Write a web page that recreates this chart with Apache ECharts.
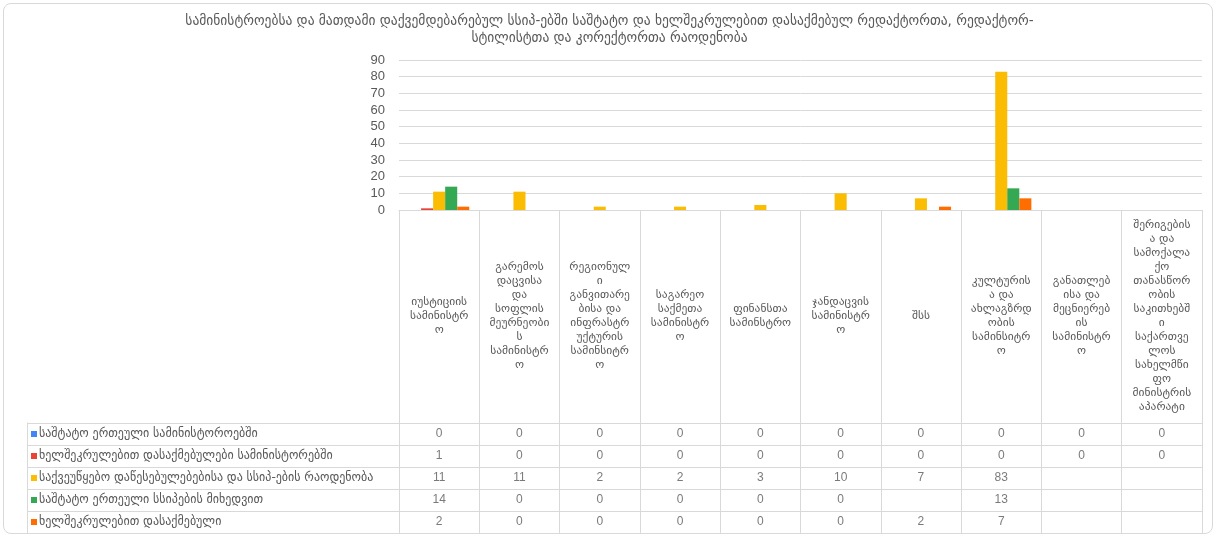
<!DOCTYPE html>
<html>
<head>
<meta charset="utf-8">
<script src="https://cdn.jsdelivr.net/npm/echarts@6/dist/echarts.min.js"></script>
<style>
body { margin: 0; background: #fff; }
#myChart { position: absolute; left: 0; top: 0; width: 1219px; height: 535px; }
#frame { position: absolute; left: 3px; top: 3px; width: 1208px; height: 529px;
  border: 1px solid #d9d9d9; border-radius: 8px; pointer-events: none; }
</style>
</head>
<body>
<div id="myChart"></div>
<div id="frame"></div>
<script>
// ministries (columns)
var categories = [
  'იუსტიციის სამინისტრო',
  'გარემოს დაცვისა და სოფლის მეურნეობის სამინისტრო',
  'რეგიონული განვითარებისა და ინფრასტრუქტურის სამინსიტრო',
  'საგარეო საქმეთა სამინისტრო',
  'ფინანსთა სამინსტრო',
  'ჯანდაცვის სამინისტრო',
  'შსს',
  'კულტურისა და ახლაგზრდობის სამინსიტრო',
  'განათლებისა და მეცნიერების სამინისტრო',
  'შერიგებისა და სამოქალაქო თანასწორობის საკითხებში საქართველოს სახელმწიფო მინისტრის აპარატი'
];
var seriesNames = [
  'საშტატო ერთეული სამინისტოროებში',
  'ხელშეკრულებით დასაქმებულები სამინისტორებში',
  'საქვეუწყებო დაწესებულებებისა და სსიპ-ების რაოდენობა',
  'საშტატო ერთეული სსიპების მიხედვით',
  'ხელშეკრულებით დასაქმებული'
];
var staffMinistry    = [0, 0, 0, 0, 0, 0, 0, 0, 0, 0];
var contractMinistry = [1, 0, 0, 0, 0, 0, 0, 0, 0, 0];
var agencyCount      = [11, 11, 2, 2, 3, 10, 7, 83, null, null];
var staffAgency      = [14, 0, 0, 0, 0, 0, null, 13, null, null];
var contractAgency   = [2, 0, 0, 0, 0, 0, 2, 7, null, null];
var yTicks = { min: 0, max: 90, interval: 10 };

var colors = ['#4285f4', '#ea4335', '#fbbc04', '#34a853', '#ff6d01'];
var allData = [staffMinistry, contractMinistry, agencyCount, staffAgency, contractAgency];
var FONT = '"Liberation Sans", "DejaVu Sans", sans-serif';
var GEO = '"DejaVu Sans", sans-serif';
var GREY = '#595959';
var LINE = '#d9d9d9';

// word wrap like a spreadsheet cell (long words get split)
var ctx = document.createElement('canvas').getContext('2d');
function wrapText(text, maxW, font) {
  ctx.font = font;
  var lines = [], cur = '';
  text.split(' ').forEach(function (w) {
    var tryLine = cur ? cur + ' ' + w : w;
    if (ctx.measureText(tryLine).width <= maxW) { cur = tryLine; return; }
    if (cur) lines.push(cur);
    cur = '';
    for (var k = 0; k < w.length; k++) {
      if (cur && ctx.measureText(cur + w[k]).width > maxW) { lines.push(cur); cur = ''; }
      cur += w[k];
    }
  });
  if (cur) lines.push(cur);
  return lines.join('\n');
}

// data table cells
var cells = [];
for (var r = 0; r < allData.length; r++) {
  for (var c = 0; c < categories.length; c++) {
    if (allData[r][c] !== null) cells.push([c, r, allData[r][c]]);
  }
}

var rich = {};
for (var i = 0; i < colors.length; i++) {
  rich['k' + i] = { width: 6, height: 6, backgroundColor: colors[i] };
  rich['t' + i] = { fontSize: 12, color: GREY, fontFamily: GEO, padding: [0, 0, 0, 2] };
}

var series = [];
for (var s = 0; s < allData.length; s++) {
  series.push({
    name: seriesNames[s],
    type: 'bar',
    xAxisIndex: 0,
    yAxisIndex: 0,
    data: allData[s],
    color: colors[s],
    barGap: '0%',
    barCategoryGap: '25%'
  });
}
series.push({
  type: 'scatter',
  xAxisIndex: 1,
  yAxisIndex: 1,
  data: cells,
  symbolSize: 1,
  itemStyle: { color: 'rgba(0,0,0,0)' },
  label: {
    show: true,
    position: 'inside',
    formatter: function (p) { return p.value[2]; },
    color: GREY,
    fontSize: 12,
    fontFamily: FONT
  }
});

var myChart = echarts.init(document.getElementById('myChart'));
var option = {
  animation: false,
  title: {
    text: 'სამინისტროებსა და მათდამი დაქვემდებარებულ სსიპ-ებში საშტატო და ხელშეკრულებით დასაქმებულ რედაქტორთა, რედაქტორ-\nსტილისტთა და კორექტორთა რაოდენობა',
    left: 'center',
    top: 8,
    textStyle: { fontSize: 13.5, fontWeight: 'normal', color: GREY, fontFamily: GEO, lineHeight: 17 }
  },
  grid: [
    { left: 399, right: 17, top: 60, height: 150, outerBoundsMode: 'none' },
    { left: 399, right: 17, top: 423, height: 110, outerBoundsMode: 'none' }
  ],
  xAxis: [
    {
      type: 'category', gridIndex: 0, data: categories,
      axisLine: { lineStyle: { color: LINE } },
      axisTick: { show: true, interval: 0, length: 213, lineStyle: { color: LINE } },
      axisLabel: {
        interval: 0, margin: 106, verticalAlign: 'middle', align: 'center', lineHeight: 14,
        fontSize: 11.5, color: GREY, fontFamily: GEO, hideOverlap: false,
        formatter: function (v) { return wrapText(v, 62, '11.5px ' + GEO); }
      }
    },
    {
      type: 'category', gridIndex: 1, data: categories, position: 'bottom',
      axisLine: { show: true, lineStyle: { color: LINE } },
      axisTick: { show: false }, axisLabel: { show: false },
      splitLine: { show: true, interval: 0, lineStyle: { color: LINE } }
    },
    {
      type: 'category', gridIndex: 1, data: categories, position: 'top',
      axisLine: { show: true, lineStyle: { color: LINE } },
      axisTick: { show: false }, axisLabel: { show: false }
    }
  ],
  yAxis: [
    {
      type: 'value', gridIndex: 0, min: yTicks.min, max: yTicks.max, interval: yTicks.interval,
      axisLine: { show: false }, axisTick: { show: false },
      splitLine: { lineStyle: { color: LINE } },
      axisLabel: { fontSize: 13, color: GREY, fontFamily: FONT, margin: 14 }
    },
    {
      type: 'category', gridIndex: 1, data: seriesNames, inverse: true, position: 'left',
      axisLine: { show: true, lineStyle: { color: LINE } },
      axisTick: { show: true, interval: 0, length: 372, lineStyle: { color: LINE } },
      axisLabel: { show: false },
      splitLine: { show: true, interval: 0, lineStyle: { color: LINE } }
    },
    {
      type: 'category', gridIndex: 1, data: seriesNames, inverse: true, position: 'left', offset: 372,
      axisLine: { show: true, lineStyle: { color: LINE } },
      axisTick: { show: false },
      axisLabel: {
        inside: true, margin: 4, align: 'left', interval: 0, hideOverlap: false,
        formatter: function (v, idx) { return '{k' + idx + '|}{t' + idx + '|' + v + '}'; },
        rich: rich
      }
    },
    {
      type: 'category', gridIndex: 1, data: seriesNames, inverse: true, position: 'right',
      axisLine: { show: true, lineStyle: { color: LINE } },
      axisTick: { show: false }, axisLabel: { show: false }
    }
  ],
  series: series
};
myChart.setOption(option, true);
</script>
</body>
</html>
